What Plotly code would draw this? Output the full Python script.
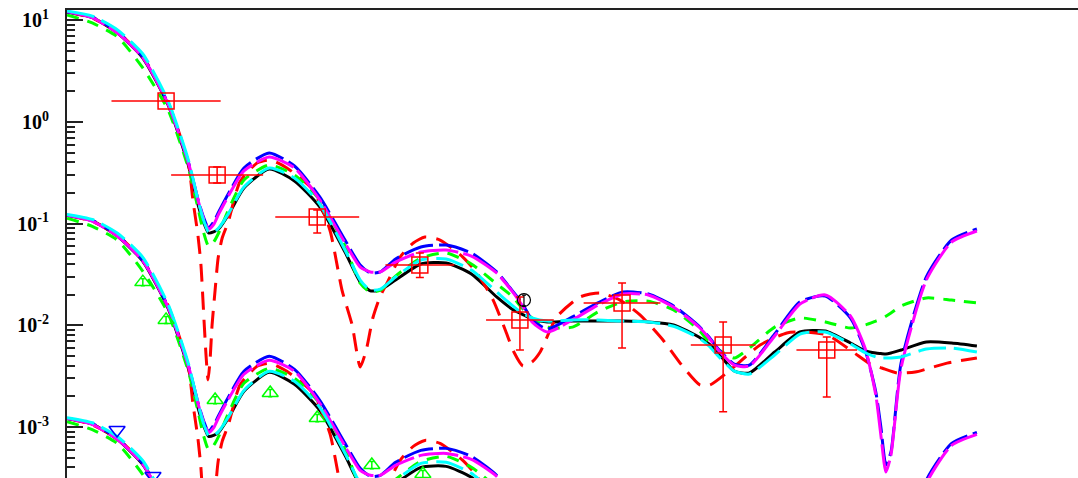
import plotly.graph_objects as go

# Scattering angle grid (deg) shared by the smooth model curves
ANGLE = [0, 5, 10, 15, 20, 24, 26, 27, 28, 29, 30, 32, 35, 40, 45, 50, 55, 58, 60, 62,
         65, 70, 75, 80, 85, 88, 90, 92, 95, 100, 105, 110, 115, 120, 125, 127, 129,
         132, 135, 140, 145, 150, 155, 158, 160, 161, 162, 163, 165, 170, 175, 180]

MODEL_BLACK = [12.1, 10.65, 7.50, 4.26, 1.47, 0.377, 0.149, 0.104, 0.0809, 0.0828, 0.0886,
               0.124, 0.224, 0.345, 0.263, 0.146, 0.0526, 0.0267, 0.0218, 0.0223, 0.0279,
               0.0401, 0.0410, 0.0320, 0.0190, 0.0145, 0.0129, 0.0115, 0.0108, 0.0110,
               0.0110, 0.0110, 0.0108, 0.0101, 0.00767, 0.00655, 0.00522, 0.00355, 0.00340,
               0.00546, 0.00859, 0.00879, 0.00670, 0.00559, 0.00534, 0.00528, 0.00522,
               0.00534, 0.00572, 0.00685, 0.00670, 0.00626]

MODEL_GREEN = [11.3, 9.41, 6.85, 3.40, 1.31, 0.353, 0.136, 0.0827, 0.0602, 0.0659, 0.0809,
               0.139, 0.269, 0.377, 0.301, 0.171, 0.0602, 0.0260, 0.0212, 0.0222, 0.0305,
               0.0459, 0.0514, 0.0401, 0.0255, 0.0194, 0.0148, 0.0118, 0.0096, 0.0096,
               0.0135, 0.0170, 0.0173, 0.0142, 0.0090, 0.00685, 0.00572, 0.00477, 0.00598,
               0.0096, 0.0118, 0.0108, 0.0094, 0.0101, 0.0110, 0.0115, 0.0123, 0.0132,
               0.0155, 0.0186, 0.0177, 0.0166]

MODEL_BLUE = [12.1, 10.77, 7.67, 4.36, 1.52, 0.404, 0.167, 0.116, 0.0905, 0.1036, 0.130,
              0.200, 0.353, 0.496, 0.369, 0.183, 0.0690, 0.0392, 0.0327, 0.0335, 0.0449,
              0.0589, 0.0616, 0.0514, 0.0335, 0.0222, 0.0166, 0.0113, 0.0092, 0.0121,
              0.0166, 0.0213, 0.0203, 0.0155, 0.0098, 0.00767, 0.00571, 0.00416, 0.00406,
              0.00821, 0.0170, 0.0194, 0.0118, 0.00546, 0.00221, 0.00100, 0.000423,
              0.000568, 0.00426, 0.0299, 0.0690, 0.0885]

MODEL_MAGENTA = [12.2, 10.6, 7.5, 4.3, 1.5, 0.40, 0.165, 0.113, 0.088, 0.098, 0.124,
                 0.190, 0.330, 0.452, 0.353, 0.171, 0.0645, 0.0374, 0.0335, 0.0335, 0.0419,
                 0.0526, 0.0550, 0.0480, 0.0327, 0.0218, 0.0158, 0.0108, 0.00859, 0.0113,
                 0.0158, 0.0203, 0.0199, 0.0151, 0.00962, 0.0075, 0.00558, 0.00406, 0.00398,
                 0.00785, 0.0162, 0.0199, 0.0123, 0.00571, 0.00206, 0.000834, 0.000361,
                 0.00053, 0.0038, 0.0279, 0.066, 0.0846]

MODEL_CYAN = [12.34, 11.0, 8.03, 4.66, 1.61, 0.423, 0.163, 0.1085, 0.0827, 0.0827, 0.0905,
              0.127, 0.229, 0.353, 0.281, 0.156, 0.0550, 0.0279, 0.0222, 0.0227, 0.0299,
              0.0439, 0.0449, 0.0350, 0.0213, 0.0158, 0.0132, 0.0118, 0.0110, 0.0113,
              0.0113, 0.0110, 0.0108, 0.0098, 0.0075, 0.00626, 0.00488, 0.00355, 0.00332,
              0.0051, 0.00821, 0.00859, 0.00655, 0.00534, 0.00488, 0.00477, 0.00477,
              0.00477, 0.00488, 0.00585, 0.00598, 0.00546]

# The red model has sharp minima, so it carries its own angle grid
RED_ANGLE = [0, 5, 10, 15, 20, 24, 24.9, 25.9, 26.5, 27.1, 27.5, 27.9, 28.3, 28.7, 29.3,
             29.9, 30.7, 31.9, 34.2, 37.6, 40.2, 43.5, 48.7, 52.0, 54.4, 56.4, 58.0, 59.2,
             60.5, 61.9, 63.3, 65.9, 68.5, 70.8, 73.8, 78.3, 81.1, 84.3, 86.7, 88.4, 90.2,
             92.0, 93.6, 96.9, 101.5, 105.4, 109.4, 113.4, 117.9, 121.9, 125.2, 127.2,
             131.2, 137.1, 142.4, 145.0, 150.4, 155.5, 158.9, 161.2, 164.2, 167.8, 170.7,
             174.1, 180]
MODEL_RED = [12.1, 10.5, 7.67, 4.36, 1.56, 0.395, 0.171, 0.0772, 0.0391, 0.0113, 0.0051,
             0.0029, 0.00456, 0.0101, 0.0222, 0.0459, 0.0722, 0.104, 0.257, 0.395, 0.423,
             0.353, 0.214, 0.0865, 0.0222, 0.0101, 0.00389, 0.00572, 0.0118, 0.0190, 0.0260,
             0.0469, 0.0645, 0.0738, 0.0690, 0.0469, 0.0327, 0.0177, 0.0090, 0.00546,
             0.00398, 0.00436, 0.00546, 0.0121, 0.0190, 0.0208, 0.0177, 0.0126, 0.00717,
             0.00389, 0.00259, 0.00259, 0.00363, 0.0064, 0.0084, 0.00859, 0.00803, 0.00546,
             0.00416, 0.0038, 0.0034, 0.00347, 0.0038, 0.00425, 0.00477]

# Vertical offsets of the three displayed sets
GROUP_SCALE = [1.0, 1e-2, 1e-4]

# Measured points, set 1 (open squares)
SQ_ANGLE = [19.6, 29.7, 49.5, 69.8, 89.6, 109.8, 129.8, 150.3]
SQ_ANGLE_ERR = [10.8, 9.1, 8.3, 6.8, 6.7, 7.6, 6.4, 6.0]
SQ_VALUE = [1.61, 0.301, 0.116, 0.0391, 0.0113, 0.0166, 0.0064, 0.00572]
SQ_LOW = [1.61, 0.251, 0.0809, 0.0295, 0.00572, 0.00598, 0.00141, 0.00197]
SQ_HIGH = [1.61, 0.361, 0.136, 0.0514, 0.0190, 0.0260, 0.0108, 0.00767]

# Measured points, set 2 (open triangles)
TRI_ANGLE = [15.0, 19.6, 29.3, 40.2, 49.5, 60.3, 70.4]
TRI_VALUE = [0.0266, 0.0113, 0.00184, 0.00216, 0.001225, 0.000423, 0.000345]

# Measured points, set 3 (inverted triangles)
DN_ANGLE = [9.9, 17.0]
DN_VALUE = [0.000934, 0.000329]

# Single point drawn as open circle
CIRC_ANGLE = [90.4]
CIRC_VALUE = [0.0177]

# Decade ticks on the cross-section axis
Y_TICK_VALUES = [10, 1, 0.1, 0.01, 0.001]
Y_TICK_LABELS = ["10<sup>1</sup>", "10<sup>0</sup>", "10<sup>-1</sup>",
                 "10<sup>-2</sup>", "10<sup>-3</sup>"]

models = [
    (ANGLE, MODEL_BLACK, "black", "solid"),
    (RED_ANGLE, MODEL_RED, "#ff0000", "18px,10px"),
    (ANGLE, MODEL_GREEN, "#00ff00", "12px,9px"),
    (ANGLE, MODEL_BLUE, "#0000ff", "30px,6px"),
    (ANGLE, MODEL_MAGENTA, "#ff00ff", "40px,5px"),
    (ANGLE, MODEL_CYAN, "#00ffff", "28px,8px"),
]

fig = go.Figure()

for scale in GROUP_SCALE:
    for xs, ys, color, dash in models:
        fig.add_trace(go.Scatter(
            x=xs, y=[v * scale for v in ys], mode="lines",
            line=dict(color=color, width=3, dash=dash, shape="spline", smoothing=0.6),
            hoverinfo="skip", showlegend=False))

fig.add_trace(go.Scatter(
    x=SQ_ANGLE, y=SQ_VALUE, mode="markers",
    marker=dict(symbol="square-open", size=16, color="#ff0000", line=dict(width=1.5)),
    error_x=dict(type="data", array=SQ_ANGLE_ERR, color="#ff0000", thickness=1.5, width=0),
    error_y=dict(type="data", symmetric=False,
                 array=[h - v for h, v in zip(SQ_HIGH, SQ_VALUE)],
                 arrayminus=[v - l for v, l in zip(SQ_VALUE, SQ_LOW)],
                 color="#ff0000", thickness=1.5, width=4),
    showlegend=False))

fig.add_trace(go.Scatter(
    x=TRI_ANGLE, y=TRI_VALUE, mode="markers",
    marker=dict(symbol="triangle-up-open", size=14, color="#00ff00", line=dict(width=1.5)),
    error_y=dict(type="percent", value=8, color="#00ff00", thickness=1.5, width=2),
    showlegend=False))

fig.add_trace(go.Scatter(
    x=DN_ANGLE, y=DN_VALUE, mode="markers",
    marker=dict(symbol="triangle-down-open", size=14, color="#0000ff", line=dict(width=1.5)),
    showlegend=False))

fig.add_trace(go.Scatter(
    x=CIRC_ANGLE, y=CIRC_VALUE, mode="markers",
    marker=dict(symbol="circle-open", size=13, color="black", line=dict(width=1.2)),
    error_y=dict(type="percent", value=12, color="black", thickness=1.2, width=2),
    showlegend=False))

fig.update_layout(
    width=1078, height=478,
    margin=dict(l=67, r=0, t=10, b=0),
    paper_bgcolor="white", plot_bgcolor="white",
    showlegend=False,
    xaxis=dict(range=[0, 200], side="top", showline=True, linecolor="#222222", linewidth=2,
               showgrid=False, zeroline=False, ticks="", showticklabels=False),
    yaxis=dict(type="log", range=[-3.5018, 1.1013], showline=True, linecolor="#222222",
               linewidth=2, showgrid=False, zeroline=False,
               tickmode="array", tickvals=Y_TICK_VALUES, ticktext=Y_TICK_LABELS,
               ticks="inside", ticklen=16, tickwidth=2,
               tickcolor="#222222", ticklabelstandoff=12,
               tickfont=dict(family="Liberation Serif", size=20, color="black", weight="bold"),
               minor=dict(ticks="inside", ticklen=8, tickwidth=1.5, tickcolor="#222222",
                          dtick="D1", showgrid=False)),
)

fig.write_html("out.html")
